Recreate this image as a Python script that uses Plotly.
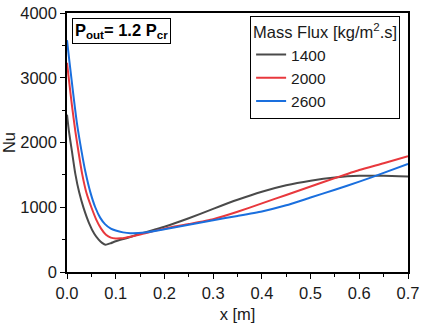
import plotly.graph_objects as go

# x positions [m] and Nusselt number
x_1400 = [0.0, 0.004, 0.01, 0.017, 0.025, 0.034, 0.045, 0.056, 0.065, 0.072, 0.079, 0.09, 0.1, 0.125, 0.15, 0.2, 0.25, 0.3, 0.35, 0.4, 0.45, 0.5, 0.55, 0.6, 0.65, 0.7]
nu_1400 = [2430, 2170, 1870, 1520, 1230, 990, 760, 590, 500, 450, 420, 445, 475, 530, 590, 700, 830, 975, 1115, 1240, 1340, 1410, 1460, 1485, 1485, 1475]

x_2000 = [0.0, 0.005, 0.01, 0.017, 0.023, 0.031, 0.04, 0.05, 0.06, 0.07, 0.08, 0.09, 0.1, 0.11, 0.12, 0.15, 0.2, 0.25, 0.3, 0.35, 0.4, 0.45, 0.5, 0.55, 0.6, 0.65, 0.7]
nu_2000 = [3230, 2900, 2580, 2180, 1884, 1520, 1220, 1000, 810, 670, 575, 530, 518, 520, 530, 580, 670, 740, 815, 930, 1060, 1190, 1320, 1450, 1575, 1680, 1790]

x_2600 = [0.0, 0.005, 0.012, 0.02, 0.03, 0.038, 0.048, 0.058, 0.068, 0.078, 0.09, 0.1, 0.115, 0.13, 0.16, 0.2, 0.25, 0.3, 0.35, 0.4, 0.45, 0.5, 0.55, 0.6, 0.65, 0.7]
nu_2600 = [3580, 3250, 2800, 2320, 1860, 1540, 1230, 1000, 840, 740, 670, 640, 612, 600, 610, 660, 730, 800, 865, 935, 1030, 1150, 1270, 1395, 1530, 1670]

series = [
    ("1400", x_1400, nu_1400, "#4a4a4a"),
    ("2000", x_2000, nu_2000, "#e8383d"),
    ("2600", x_2600, nu_2600, "#1a6fde"),
]

FONT = "Arial, Liberation Sans, sans-serif"
TXT = "#1a1a1a"

fig = go.Figure()
for name, xs, ys, color in series:
    fig.add_trace(go.Scatter(x=xs, y=ys, name=name, mode="lines",
                             line=dict(color=color, width=2, shape="spline", smoothing=0.5)))

axis_common = dict(
    showline=True, linecolor="black", linewidth=1.5, mirror=True,
    ticks="outside", ticklen=5, tickwidth=1, tickcolor="black",
    showgrid=False, zeroline=False, automargin=False,
    tickfont=dict(family=FONT, size=16.5, color=TXT),
)

fig.update_xaxes(range=[0, 0.7], dtick=0.1, tickformat=".1f",
                 minor=dict(ticks="outside", ticklen=3, dtick=0.05, tickcolor="black"),
                 title=dict(text="x [m]", font=dict(family=FONT, size=16.5, color=TXT), standoff=8),
                 **axis_common)
fig.update_yaxes(range=[0, 4000], dtick=1000,
                 minor=dict(ticks="outside", ticklen=3, dtick=500, tickcolor="black"),
                 title=dict(text="Nu", font=dict(family=FONT, size=16.5, color=TXT), standoff=2),
                 **axis_common)

fig.add_annotation(
    text="<b>P<sub>out</sub>= 1.2 P<sub>cr</sub></b>",
    xref="paper", yref="paper", x=0.015, y=0.98, xanchor="left", yanchor="top",
    showarrow=False, font=dict(family=FONT, size=16.5, color="black"),
    bordercolor="black", borderwidth=1, borderpad=2, bgcolor="white",
)

fig.update_layout(
    width=426, height=329,
    margin=dict(l=67, r=18, t=13, b=57),
    paper_bgcolor="white", plot_bgcolor="white",
    showlegend=True,
    legend=dict(
        title=dict(text="Mass Flux [kg/m<sup>2</sup>.s]", font=dict(family=FONT, size=16.5, color=TXT)),
        font=dict(family=FONT, size=15.5, color=TXT),
        x=0.537, y=0.99, xanchor="left", yanchor="top",
        bgcolor="white", bordercolor="black", borderwidth=1,
        tracegroupgap=0, itemwidth=30,
    ),
)

# drop the browser's default body margin so the figure sits at the page corner
fig.write_html("out.html", config={"displayModeBar": False},
               post_script="document.body.style.margin='0';")
